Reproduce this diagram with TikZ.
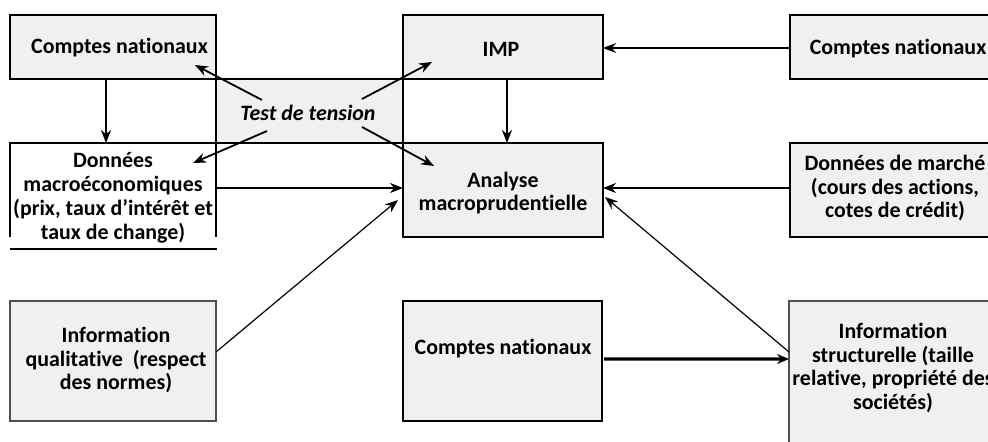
\documentclass[tikz,border=0pt]{standalone}
\usepackage{fontspec}
\setmainfont{Carlito}[Ligatures=NoCommon]
\usetikzlibrary{arrows.meta}
\definecolor{boxgray}{HTML}{F0F0F0}
\definecolor{edgegray}{HTML}{505050}
\tikzset{
  bx/.style={draw=black, line width=1.2bp, fill=boxgray, inner sep=0pt, outer sep=0pt},
  gbx/.style={bx, draw=edgegray},
  txt/.style={inner sep=0pt, font=\bfseries\fontsize{22}{24}\selectfont, align=center},
  arr/.style={line width=1.8bp, -{Stealth[length=13bp,width=10bp]}},
  thinarr/.style={line width=1.2bp, -{Stealth[length=13bp,width=10bp]}},
  thickarr/.style={line width=3.2bp, -{Stealth[length=12bp,width=10bp]}},
}
\begin{document}
\begin{tikzpicture}[x=1bp,y=-1bp]
\useasboundingbox (0,0) rectangle (988,442);
% boxes
\node[bx, minimum width=187bp, minimum height=64bp] (test) at (309.5,111) {};
\node[bx, minimum width=206bp, minimum height=64bp] (cn1) at (113,47) {};
\node[bx, minimum width=200bp, minimum height=64bp] (imp) at (503,47) {};
\node[bx, minimum width=220bp, minimum height=64bp] (cnr) at (900,47) {};
\node[inner sep=0pt, outer sep=0pt, fill=white, minimum width=206bp, minimum height=94bp] (don) at (113,190) {};
\draw[line width=1.2bp] (don.south west) -- (don.north west) -- (don.north east) -- (don.south east);
\draw[line width=1.2bp] ([shift={(0,12)}]don.south west) -- ([shift={(1,12)}]don.south east);
\node[bx, minimum width=200bp, minimum height=94bp] (ana) at (503,190) {};
\node[bx, minimum width=220bp, minimum height=94bp] (dm) at (900,190) {};
\node[gbx, minimum width=206bp, minimum height=120bp] (iq) at (113,361) {};
\node[bx, minimum width=199bp, minimum height=120bp] (cnb) at (502.5,361) {};
\node[gbx, minimum width=210bp, minimum height=160bp] (is) at (894,381) {};
% texts
\node[txt] (cn1t) at (119.5,48) {Comptes nationaux};
\node[txt, font=\bfseries\itshape\fontsize{22}{24}\selectfont] (testt) at (308,113) {Test de tension};
\node[txt] (impt) at (501,49) {IMP};
\node[txt] (cnrt) at (898,49) {Comptes nationaux};
\node[txt] (dont) at (113,198) {Données\\macroéconomiques\\(prix, taux d’intérêt et\\taux de change)};
\node[txt] (anat) at (503,193) {Analyse\\macroprudentielle};
\node[txt] (dmt) at (895,188) {Données de marché\\(cours des actions,\\cotes de crédit)};
\node[txt] (iqt) at (116,360) {Information\\qualitative\ \ (respect\\des normes)};
\node[txt] (cnbt) at (503,349) {Comptes nationaux};
\node[txt] (ist) at (893,368) {Information\\structurelle (taille\\relative, propriété des\\sociétés)};
% connectors
\draw[arr] ([shift={(-7,0)}]cn1.south) -- ([shift={(-7,0)}]don.north);
\draw[arr] ([shift={(4,0)}]imp.south) -- ([shift={(4,0)}]ana.north);
\draw[arr] ([shift={(0,1)}]cnr.west) -- ([shift={(0,1)}]imp.east);
\draw[arr] ([shift={(0,-2)}]dm.west) -- ([shift={(0,-2)}]ana.east);
\draw[arr] ([shift={(1,-2)}]don.east) -- ([shift={(0,-2)}]ana.west);
\draw[arr] ([shift={(-46,-13)}]testt.center) -- ([shift={(-21,-14)}]cn1.south east);
\draw[arr] ([shift={(-41,18)}]testt.center) -- ([shift={(-23,20)}]don.north east);
\draw[arr] ([shift={(54,-14)}]testt.center) -- ([shift={(29,-17)}]imp.south west);
\draw[arr] ([shift={(54,14)}]testt.center) -- ([shift={(31,23)}]ana.north west);
\draw[thinarr] ([shift={(0,-9)}]iq.east) -- ([shift={(-5,10)}]ana.west);
\draw[thinarr] ([shift={(0,51)}]is.north west) -- ([shift={(2,7)}]ana.east);
\draw[thickarr] ([shift={(2,-2)}]cnb.east) -- ([shift={(0,58)}]is.north west);
\end{tikzpicture}
\end{document}
